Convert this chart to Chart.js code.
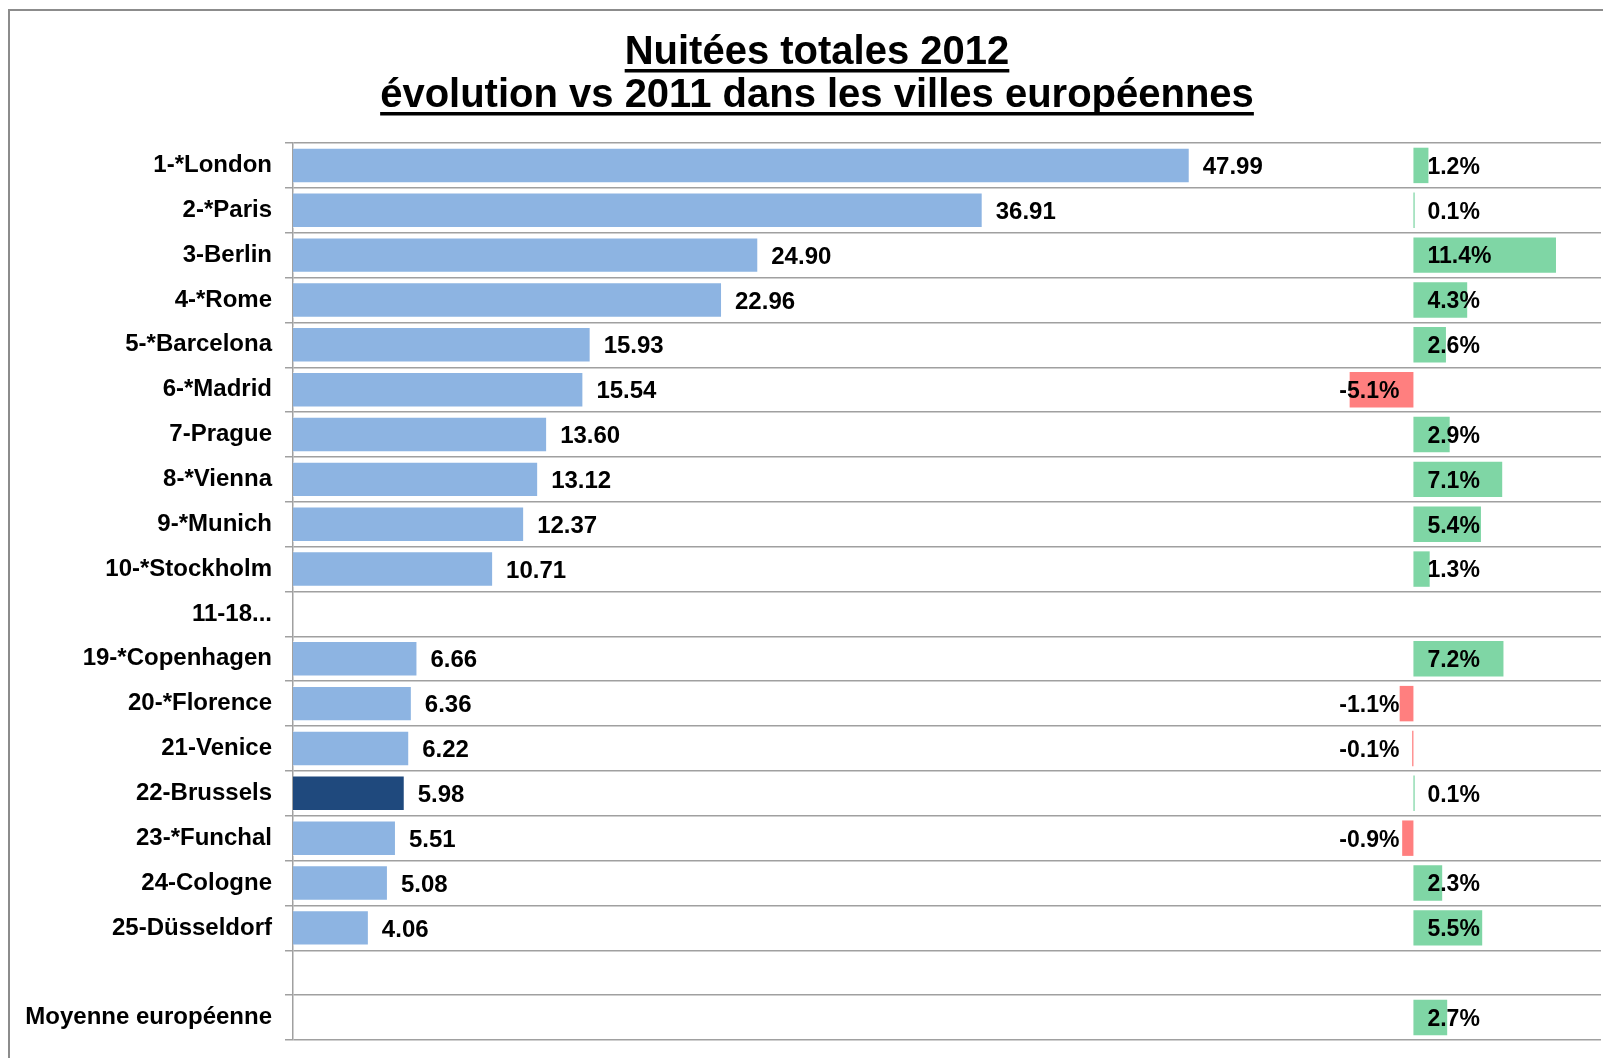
<!DOCTYPE html>
<html>
<head>
<meta charset="utf-8">
<title>Nuitées totales 2012</title>
<script src="https://cdn.jsdelivr.net/npm/chart.js@4"></script>
<style>
  html, body { margin: 0; padding: 0; background: #fff; overflow: hidden; }
  canvas { display: block; }
</style>
</head>
<body>
<canvas id="nightsChart" width="1603" height="1058"></canvas>
<script>
// Nuitées 2012 (millions) et évolution vs 2011

var titleLines = ["Nuitées totales 2012", "évolution vs 2011 dans les villes européennes"];

var cities = [
  "1-*London", "2-*Paris", "3-Berlin", "4-*Rome", "5-*Barcelona",
  "6-*Madrid", "7-Prague", "8-*Vienna", "9-*Munich", "10-*Stockholm",
  "11-18...", "19-*Copenhagen", "20-*Florence", "21-Venice", "22-Brussels",
  "23-*Funchal", "24-Cologne", "25-Düsseldorf", "", "Moyenne européenne"
];

var nights = [
  47.99, 36.91, 24.90, 22.96, 15.93,
  15.54, 13.60, 13.12, 12.37, 10.71,
  null, 6.66, 6.36, 6.22, 5.98,
  5.51, 5.08, 4.06, null, null
];

var evolution = [
  1.2, 0.1, 11.4, 4.3, 2.6,
  -5.1, 2.9, 7.1, 5.4, 1.3,
  null, 7.2, -1.1, -0.1, 0.1,
  -0.9, 2.3, 5.5, null, 2.7
];

var highlight = "22-Brussels";

var FONT = "'Liberation Sans', Arial, sans-serif";

var nightsColors = cities.map(function (c) {
  return c === highlight ? "#1F497D" : "#8DB4E2";
});
var evolutionColors = evolution.map(function (v) {
  return v < 0 ? "#FF7F7F" : "#7FD6A5";
});

// frame + underlined title
const frameAndTitle = {
  id: 'frameAndTitle',
  beforeDraw(chart) {
    const ctx = chart.ctx;
    ctx.save();
    ctx.fillStyle = '#fff';
    ctx.fillRect(0, 0, chart.width, chart.height);
    ctx.strokeStyle = '#8c8c8c';
    ctx.lineWidth = 2;
    ctx.strokeRect(9, 10, 1700, 1200);
    ctx.restore();
  },
  afterDraw(chart) {
    const ctx = chart.ctx;
    ctx.save();
    ctx.font = "bold 40px " + FONT;
    ctx.fillStyle = '#000';
    ctx.textAlign = 'center';
    ctx.textBaseline = 'alphabetic';
    var cx = 817;
    var baselines = [64, 107];
    titleLines.forEach(function (t, i) {
      ctx.fillText(t, cx, baselines[i]);
      var w = ctx.measureText(t).width;
      ctx.fillRect(cx - w / 2, baselines[i] + 5, w, 3.5);
    });
    ctx.restore();
  }
};

// value labels next to the bars
const barLabels = {
  id: 'barLabels',
  afterDatasetsDraw(chart) {
    const ctx = chart.ctx;
    ctx.save();
    ctx.fillStyle = '#000';
    ctx.textBaseline = 'middle';

    ctx.font = "bold 24px " + FONT;
    ctx.textAlign = 'left';
    chart.getDatasetMeta(0).data.forEach(function (bar, i) {
      var v = nights[i];
      if (v == null) return;
      ctx.fillText(v.toFixed(2), bar.x + 13, bar.y + 2);
    });

    ctx.font = "bold 23px " + FONT;
    var zero = chart.scales.x2.getPixelForValue(0);
    chart.getDatasetMeta(1).data.forEach(function (bar, i) {
      var v = evolution[i];
      if (v == null) return;
      var txt = v.toFixed(1) + '%';
      if (v >= 0) {
        ctx.textAlign = 'left';
        ctx.fillText(txt, zero + 14, bar.y + 2);
      } else {
        ctx.textAlign = 'right';
        ctx.fillText(txt, zero - 14, bar.y + 2);
      }
    });
    ctx.restore();
  }
};

const ctx = document.getElementById('nightsChart').getContext('2d');
new Chart(ctx, {
  type: 'bar',
  data: {
    labels: cities,
    datasets: [
      {
        label: 'Nuitées 2012',
        data: nights,
        xAxisID: 'x',
        backgroundColor: nightsColors,
        borderColor: 'rgba(255,255,255,0.6)',
        borderWidth: 1,
        grouped: false,
        categoryPercentage: 1,
        barPercentage: 0.79
      },
      {
        label: 'Evolution vs 2011',
        data: evolution,
        xAxisID: 'x2',
        backgroundColor: evolutionColors,
        grouped: false,
        categoryPercentage: 1,
        barPercentage: 0.79
      }
    ]
  },
  options: {
    indexAxis: 'y',
    responsive: false,
    animation: false,
    devicePixelRatio: 1,
    layout: {
      padding: { top: 143, bottom: 18, left: 0, right: 2 }
    },
    plugins: {
      legend: { display: false },
      tooltip: { enabled: false },
      title: { display: false }
    },
    scales: {
      y: {
        type: 'category',
        grid: {
          offset: true,
          color: '#a0a0a0',
          lineWidth: 1.5,
          tickLength: 8
        },
        border: { color: '#a0a0a0', width: 1.5 },
        ticks: {
          color: '#000',
          padding: 13,
          autoSkip: false,
          font: { family: FONT, size: 24, weight: 'bold' }
        },
        afterFit: function (scale) {
          scale.width = 293;
          scale.paddingTop = 0;
          scale.paddingBottom = 0;
        }
      },
      x: {
        type: 'linear',
        display: false,
        min: 0,
        max: 70
      },
      x2: {
        type: 'linear',
        display: false,
        min: -89.6,
        max: 15
      }
    }
  },
  plugins: [frameAndTitle, barLabels]
});
</script>
</body>
</html>
